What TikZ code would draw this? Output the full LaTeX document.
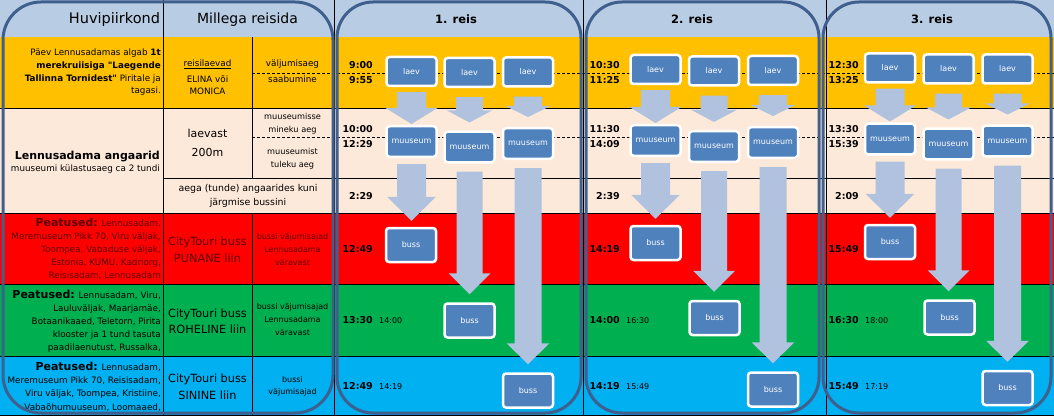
\documentclass[tikz,border=0pt]{standalone}
\usepackage{fontspec}
\setmainfont{DejaVu Sans}[Ligatures=TeXOff]
\usetikzlibrary{calc}
\definecolor{hdr}{HTML}{B8CCE4}
\definecolor{orng}{HTML}{FFC000}
\definecolor{peach}{HTML}{FDE9D9}
\definecolor{redr}{HTML}{FF0000}
\definecolor{grn}{HTML}{00B050}
\definecolor{blu}{HTML}{00B0F0}
\definecolor{boxb}{HTML}{4F81BD}
\definecolor{arrc}{HTML}{B0C2DE}
\definecolor{frm}{HTML}{3F608E}
\definecolor{dred}{HTML}{5C0000}
\newcommand\fs[2]{\fontsize{#1}{#2}\selectfont}
% block arrow: source, target, start gap, end gap, shaft width, head width, head length
\newcommand\blockarr[7]{%
  \fill[arrc] let \p1=($(#1.south)+(0,#3)$), \p2=($(#1.south |- #2.north)+(0,-#4)$) in
  (\x1-#5/2,\y1) -- (\x1+#5/2,\y1) -- (\x1+#5/2,\y2+#7) -- (\x1+#6/2,\y2+#7) --
  (\x1,\y2) -- (\x1-#6/2,\y2+#7) -- (\x1-#5/2,\y2+#7) -- cycle;}
\tikzset{
  grid/.style={black, line width=0.6pt},
  dline/.style={black, line width=0.6pt, dash pattern=on 3pt off 2pt},
  frame/.style={draw=frm, line width=3pt, rounded corners=36pt},
  box/.style={fill=boxb, draw=white, line width=2.5pt, rounded corners=3pt, text=white,
    font=\fs{8}{10}, minimum width=50pt, minimum height=29pt, inner sep=0pt},
  mbox/.style={box, minimum height=30.5pt},
  bbox/.style={box, minimum height=34pt},
  tb/.style={font=\bfseries\fs{9.5}{11}, anchor=base east, inner sep=0pt},
  ts/.style={font=\fs{8}{10}, anchor=base west, inner sep=0pt},
  lt/.style={font=\fs{8.8}{12.7}, align=right, anchor=base east, inner sep=0pt},
  ct/.style={align=center, anchor=base, inner sep=0pt},
}
\newcommand\pea{{\bfseries\fs{11}{13}Peatused:}}
\begin{document}
\begin{tikzpicture}[x=1pt,y=-1pt]
\useasboundingbox (0,0) rectangle (1054,417);
% row backgrounds
\fill[hdr] (0,0) rectangle (1054,37.5);
\fill[orng] (0,37.5) rectangle (1054,108);
\fill[peach] (0,108) rectangle (1054,213);
\fill[redr] (0,213) rectangle (1054,284);
\fill[grn] (0,284) rectangle (1054,356);
\fill[blu] (0,356) rectangle (1054,415);
% grid
\foreach \yy in {108,213,284,356,415} \draw[grid] (0,\yy) -- (1054,\yy);
\draw[grid] (163,178) -- (1054,178);
\draw[dline] (252,73) -- (1054,73);
\draw[dline] (252,137) -- (1054,137);
\foreach \xx in {163,334,583,826} \draw[grid] (\xx,0) -- (\xx,415);
\draw[grid] (252,37.5) -- (252,178);
\draw[grid] (252,213) -- (252,415);
% header texts
\node[font=\fs{14.5}{17}] (hHuvi) at (114.5,20) {Huvipiirkond};
\node[font=\fs{14}{17}] (hMill) at (247.5,20) {Millega reisida};
\node[font=\bfseries\fs{11.5}{14}] (hR1) at (456,19) {1. reis};
\node[font=\bfseries\fs{11.5}{14}] (hR2) at (692,19) {2. reis};
\node[font=\bfseries\fs{11.5}{14}] (hR3) at (932,19) {3. reis};
% orange row (multi-line nodes: base = last line)
\node[lt] (o1) at (161,94) {Päev Lennusadamas algab \textbf{1t}\\ \textbf{merekruiisiga "Laegende}\\ \textbf{Tallinna Tornidest"} Piritale ja\\ tagasi.};
\node[ct, font=\fs{8.8}{11}] (o2a) at (207.5,67) {\underline{reisilaevad}};
\node[ct, font=\fs{8.8}{11.5}] (o2b) at (207.5,94.5) {ELINA või\\ MONICA};
\node[ct, font=\fs{8.8}{11}] (o3a) at (292.5,67) {väljumisaeg};
\node[ct, font=\fs{8.8}{11}] (o3b) at (292.5,83) {saabumine};
% peach row
\node[lt, font=\bfseries\fs{11}{13}] (p1a) at (160,159) {Lennusadama angaarid};
\node[lt] (p1b) at (160,171) {muuseumi külastusaeg ca 2 tundi};
\node[ct, font=\fs{11}{18}] (p2) at (207.5,156) {laevast\\ 200m};
\node[ct, font=\fs{8.2}{13}] (p3a) at (292.5,132) {muuseumisse\\ mineku aeg};
\node[ct, font=\fs{8.2}{13}] (p3b) at (292.5,167) {muuseumist\\ tuleku aeg};
\node[ct, font=\fs{9.4}{14}] (p4) at (248,205) {aega (tunde) angaarides kuni\\ järgmise bussini};
% red row
\node[lt, text=dred, font=\fs{8.8}{13}] (r1) at (161,278) {\pea{} Lennusadam,\\ Meremuseum Pikk 70, Viru väljak,\\ Toompea, Vabaduse väljak,\\ Estonia, KUMU, Kadriorg,\\ Reisisadam, Lennusadam};
\node[ct, text=dred, font=\fs{11.3}{17}] (r2) at (207.5,262) {CityTouri buss\\ PUNANE liin};
\node[ct, text=dred, font=\fs{8}{13}] (r3) at (292.5,265) {bussi väjumisajad\\ Lennusadama\\ väravast};
% green row
\node[lt, font=\fs{8.8}{13}] (g1) at (161,350) {\pea{} Lennusadam, Viru,\\ Lauluväljak, Maarjamäe,\\ Botaanikaaed, Teletorn, Pirita\\ klooster ja 1 tund tasuta\\ paadilaenutust, Russalka,};
\node[ct, font=\fs{11.3}{16}] (g2) at (207.5,333) {CityTouri buss\\ ROHELINE liin};
\node[ct, font=\fs{8}{13}] (g3) at (292.5,335) {bussi väjumisajad\\ Lennusadama\\ väravast};
% blue row
\node[lt, font=\fs{8.8}{13.3}] (b1) at (161,410) {\pea{} Lennusadam,\\ Meremuseum Pikk 70, Reisisadam,\\ Viru väljak, Toompea, Kristiine,\\ Vabaõhumuuseum, Loomaaed,};
\node[ct, font=\fs{11.3}{17}] (b2) at (207.5,399) {CityTouri buss\\ SININE liin};
\node[ct, font=\fs{8}{12}] (b3) at (292.5,394) {bussi\\ väjumisajad};
% times reis 1
\node[tb] (t1a) at (373,68.5) {9:00};
\node[tb] (t1b) at (373,83.5) {9:55};
\node[tb] (t1c) at (373,132.5) {10:00};
\node[tb] (t1d) at (373,147.5) {12:29};
\node[tb] (t1e) at (373,199.5) {2:29};
\node[tb] (t1f) at (373,252.5) {12:49};
\node[tb] (t1g) at (373,323.5) {13:30};
\node[ts] (t1h) at (379,323.5) {14:00};
\node[tb] (t1i) at (373,389.5) {12:49};
\node[ts] (t1j) at (379,389.5) {14:19};
% times reis 2
\node[tb] (t2a) at (620,68.5) {10:30};
\node[tb] (t2b) at (620,83.5) {11:25};
\node[tb] (t2c) at (620,132.5) {11:30};
\node[tb] (t2d) at (620,147.5) {14:09};
\node[tb] (t2e) at (620,199.5) {2:39};
\node[tb] (t2f) at (620,252.5) {14:19};
\node[tb] (t2g) at (620,323.5) {14:00};
\node[ts] (t2h) at (626,323.5) {16:30};
\node[tb] (t2i) at (620,389.5) {14:19};
\node[ts] (t2j) at (626,389.5) {15:49};
% times reis 3
\node[tb] (t3a) at (859,68.5) {12:30};
\node[tb] (t3b) at (859,83.5) {13:25};
\node[tb] (t3c) at (859,132.5) {13:30};
\node[tb] (t3d) at (859,147.5) {15:39};
\node[tb] (t3e) at (859,199.5) {2:09};
\node[tb] (t3f) at (859,252.5) {15:49};
\node[tb] (t3g) at (859,323.5) {16:30};
\node[ts] (t3h) at (865,323.5) {18:00};
\node[tb] (t3i) at (859,389.5) {15:49};
\node[ts] (t3j) at (865,389.5) {17:19};
% frames
\draw[frame, rounded corners=38pt] (3,2) rectangle (333,413);
\draw[frame] (337,2) rectangle (581,413);
\draw[frame] (586,2) rectangle (819,413);
\draw[frame] (823,2) rectangle (1051,413);
% boxes reis 1
\node[box] (L11) at (411.5,71.5) {laev};
\node[box] (L12) at (469.5,72.5) {laev};
\node[box] (L13) at (528,72) {laev};
\node[mbox] (M11) at (411.5,141.5) {muuseum};
\node[mbox] (M12) at (469.5,147) {muuseum};
\node[mbox] (M13) at (528,143.5) {muuseum};
\node[bbox] (B11) at (411,245) {buss};
\node[bbox] (B12) at (469.5,320.5) {buss};
\node[bbox] (B13) at (528,390.5) {buss};
% boxes reis 2
\node[box] (L21) at (655.5,69.5) {laev};
\node[box] (L22) at (714,71) {laev};
\node[box] (L23) at (773,70.5) {laev};
\node[mbox] (M21) at (655.5,140.5) {muuseum};
\node[mbox] (M22) at (714,146.5) {muuseum};
\node[mbox] (M23) at (773,142.5) {muuseum};
\node[bbox] (B21) at (655.5,243) {buss};
\node[bbox] (B22) at (714.5,318) {buss};
\node[bbox] (B23) at (773,389.5) {buss};
% boxes reis 3
\node[box] (L31) at (890,68) {laev};
\node[box] (L32) at (948.5,69) {laev};
\node[box] (L33) at (1007.5,69) {laev};
\node[mbox] (M31) at (890,139) {muuseum};
\node[mbox] (M32) at (948.5,144) {muuseum};
\node[mbox] (M33) at (1007.5,141) {muuseum};
\node[bbox] (B31) at (890,242) {buss};
\node[bbox] (B32) at (949.5,317.5) {buss};
\node[bbox] (B33) at (1007.5,388) {buss};
% arrows
\blockarr{L11}{M11}{5}{1}{29}{52}{16}
\blockarr{L12}{M12}{9}{8}{27}{45}{12}
\blockarr{L13}{M13}{9}{10}{28}{45}{11}
\blockarr{M11}{B11}{6}{6}{29}{49}{24}
\blockarr{M12}{B12}{8}{8}{26}{42}{21}
\blockarr{M13}{B13}{8}{8}{27}{43}{21}
\blockarr{L21}{M21}{5}{1}{29}{52}{16}
\blockarr{L22}{M22}{9}{8}{27}{45}{12}
\blockarr{L23}{M23}{9}{10}{28}{45}{11}
\blockarr{M21}{B21}{6}{6}{29}{49}{24}
\blockarr{M22}{B22}{8}{8}{26}{42}{21}
\blockarr{M23}{B23}{8}{8}{27}{43}{21}
\blockarr{L31}{M31}{5}{1}{29}{52}{16}
\blockarr{L32}{M32}{9}{8}{27}{45}{12}
\blockarr{L33}{M33}{9}{10}{28}{45}{11}
\blockarr{M31}{B31}{6}{6}{29}{49}{24}
\blockarr{M32}{B32}{8}{8}{26}{42}{21}
\blockarr{M33}{B33}{8}{8}{27}{43}{21}
\end{tikzpicture}
\end{document}
